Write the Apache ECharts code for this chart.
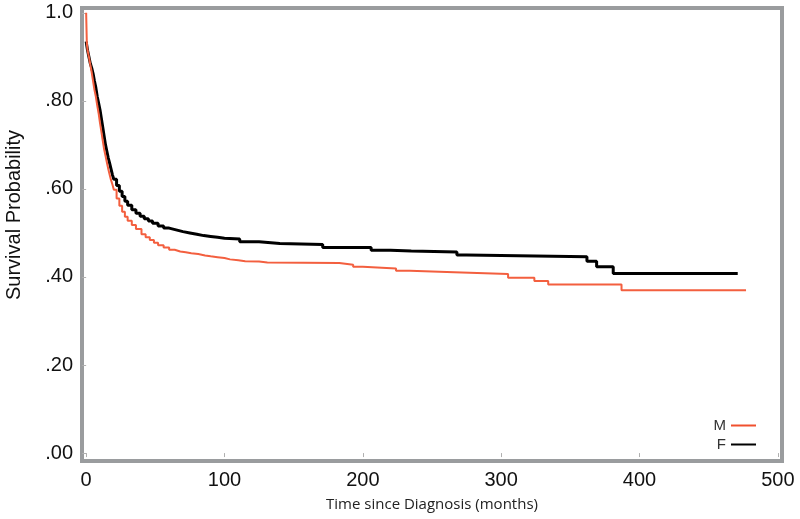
<!DOCTYPE html>
<html>
<head>
<meta charset="utf-8">
<title>Survival by sex</title>
<script src="https://cdn.jsdelivr.net/npm/echarts@6/dist/echarts.min.js"></script>
<style>
  html, body { margin: 0; padding: 0; background: #fff; }
  #chart { width: 800px; height: 519px; }
</style>
</head>
<body>
<div id="chart"></div>
<script>
// Kaplan-Meier steps (months, survival)
const timeF = [0, 1, 2, 3, 4, 5, 6, 7, 8, 9, 10, 11, 12, 13, 14, 15, 16, 17, 18, 19, 20, 22, 24, 26, 28, 30, 33, 36, 39, 42, 45, 48, 52, 56, 60, 65, 70, 75, 80, 85, 90, 95, 100, 111, 125, 140, 171, 206, 220, 235, 268, 275, 362, 369, 381, 471]
const survF = [0.935, 0.915, 0.90, 0.885, 0.875, 0.862, 0.845, 0.83, 0.81, 0.795, 0.78, 0.76, 0.74, 0.72, 0.70, 0.685, 0.67, 0.658, 0.645, 0.632, 0.622, 0.608, 0.595, 0.583, 0.572, 0.563, 0.553, 0.545, 0.538, 0.532, 0.527, 0.522, 0.516, 0.511, 0.507, 0.503, 0.50, 0.497, 0.494, 0.492, 0.49, 0.488, 0.486, 0.48, 0.476, 0.474, 0.467, 0.461, 0.459, 0.457, 0.45, 0.446, 0.436, 0.423, 0.408, 0.408]

const timeM = [0, 0.5, 1, 2, 3, 4, 5, 6, 7, 8, 9, 10, 11, 12, 13, 14, 15, 16, 17, 18, 19, 20, 22, 24, 26, 28, 30, 33, 36, 40, 43, 46, 49, 52, 56, 60, 64, 68, 72, 76, 81, 86, 90, 95, 100, 104, 110, 115, 125, 131, 183, 193, 200, 224, 234, 266, 305, 324, 334, 387, 477]
const survM = [1.0, 0.93, 0.915, 0.90, 0.882, 0.865, 0.845, 0.825, 0.81, 0.79, 0.772, 0.75, 0.73, 0.71, 0.69, 0.675, 0.66, 0.645, 0.632, 0.62, 0.61, 0.598, 0.578, 0.562, 0.548, 0.537, 0.528, 0.518, 0.509, 0.497, 0.49, 0.484, 0.478, 0.472, 0.467, 0.462, 0.458, 0.456, 0.454, 0.452, 0.449, 0.447, 0.445, 0.443, 0.44, 0.438, 0.436, 0.435, 0.433, 0.432, 0.428, 0.423, 0.419, 0.414, 0.411, 0.407, 0.398, 0.391, 0.383, 0.37, 0.37]

const xTicks = [0, 100, 200, 300, 400, 500]
const yTicks = [0, 0.2, 0.4, 0.6, 0.8, 1.0]

const pairs = (t, s) => t.map((v, i) => [v, s[i]])

const chart = echarts.init(document.getElementById('chart'))

chart.setOption({
  animation: false,
  textStyle: { fontFamily: 'Liberation Sans, Arial, sans-serif' },
  grid: {
    left: 82,
    right: 18,
    top: 8,
    bottom: 58,
    show: true,
    borderColor: '#9a9c9e',
    borderWidth: 4
  },
  legend: {
    data: ['M', 'F'],
    orient: 'vertical',
    align: 'right',
    right: 39,
    top: 413,
    itemWidth: 25,
    itemHeight: 2,
    itemGap: 4,
    icon: 'rect',
    textStyle: { fontSize: 15, color: '#333' }
  },
  xAxis: {
    type: 'value',
    min: -3,
    max: 503,
    name: 'Time since Diagnosis (months)',
    nameLocation: 'middle',
    nameGap: 36,
    nameTextStyle: { fontFamily: 'Open Sans', fontSize: 15, color: '#222' },
    axisLine: { show: false },
    splitLine: { show: false },
    axisTick: { show: true, customValues: xTicks, length: 4, lineStyle: { color: '#b0b0b0' } },
    axisLabel: { customValues: xTicks, fontSize: 20, color: '#111', margin: 9 }
  },
  yAxis: {
    type: 'value',
    min: -0.018,
    max: 1.011,
    axisLine: { show: false },
    splitLine: { show: false },
    axisTick: { show: true, customValues: yTicks, length: 4, lineStyle: { color: '#b0b0b0' } },
    axisLabel: {
      customValues: yTicks,
      fontSize: 20,
      color: '#111',
      margin: 9,
      formatter: v => (v === 1 ? '1.0' : v.toFixed(2).replace(/^0/, ''))
    }
  },
  graphic: [{
    type: 'text',
    x: 14,
    y: 215,
    rotation: Math.PI / 2,
    style: {
      text: 'Survival Probability',
      font: '20px Liberation Sans',
      fill: '#111',
      align: 'center',
      verticalAlign: 'middle'
    }
  }],
  series: [{
    name: 'F',
    type: 'line',
    step: 'end',
    showSymbol: false,
    data: pairs(timeF, survF),
    itemStyle: { color: '#000' },
    lineStyle: { color: '#000', width: 3 }
  }, {
    name: 'M',
    type: 'line',
    step: 'end',
    showSymbol: false,
    data: pairs(timeM, survM),
    itemStyle: { color: '#f0502e' },
    lineStyle: { color: '#f35f3f', width: 2 }
  }]
})
</script>
</body>
</html>
